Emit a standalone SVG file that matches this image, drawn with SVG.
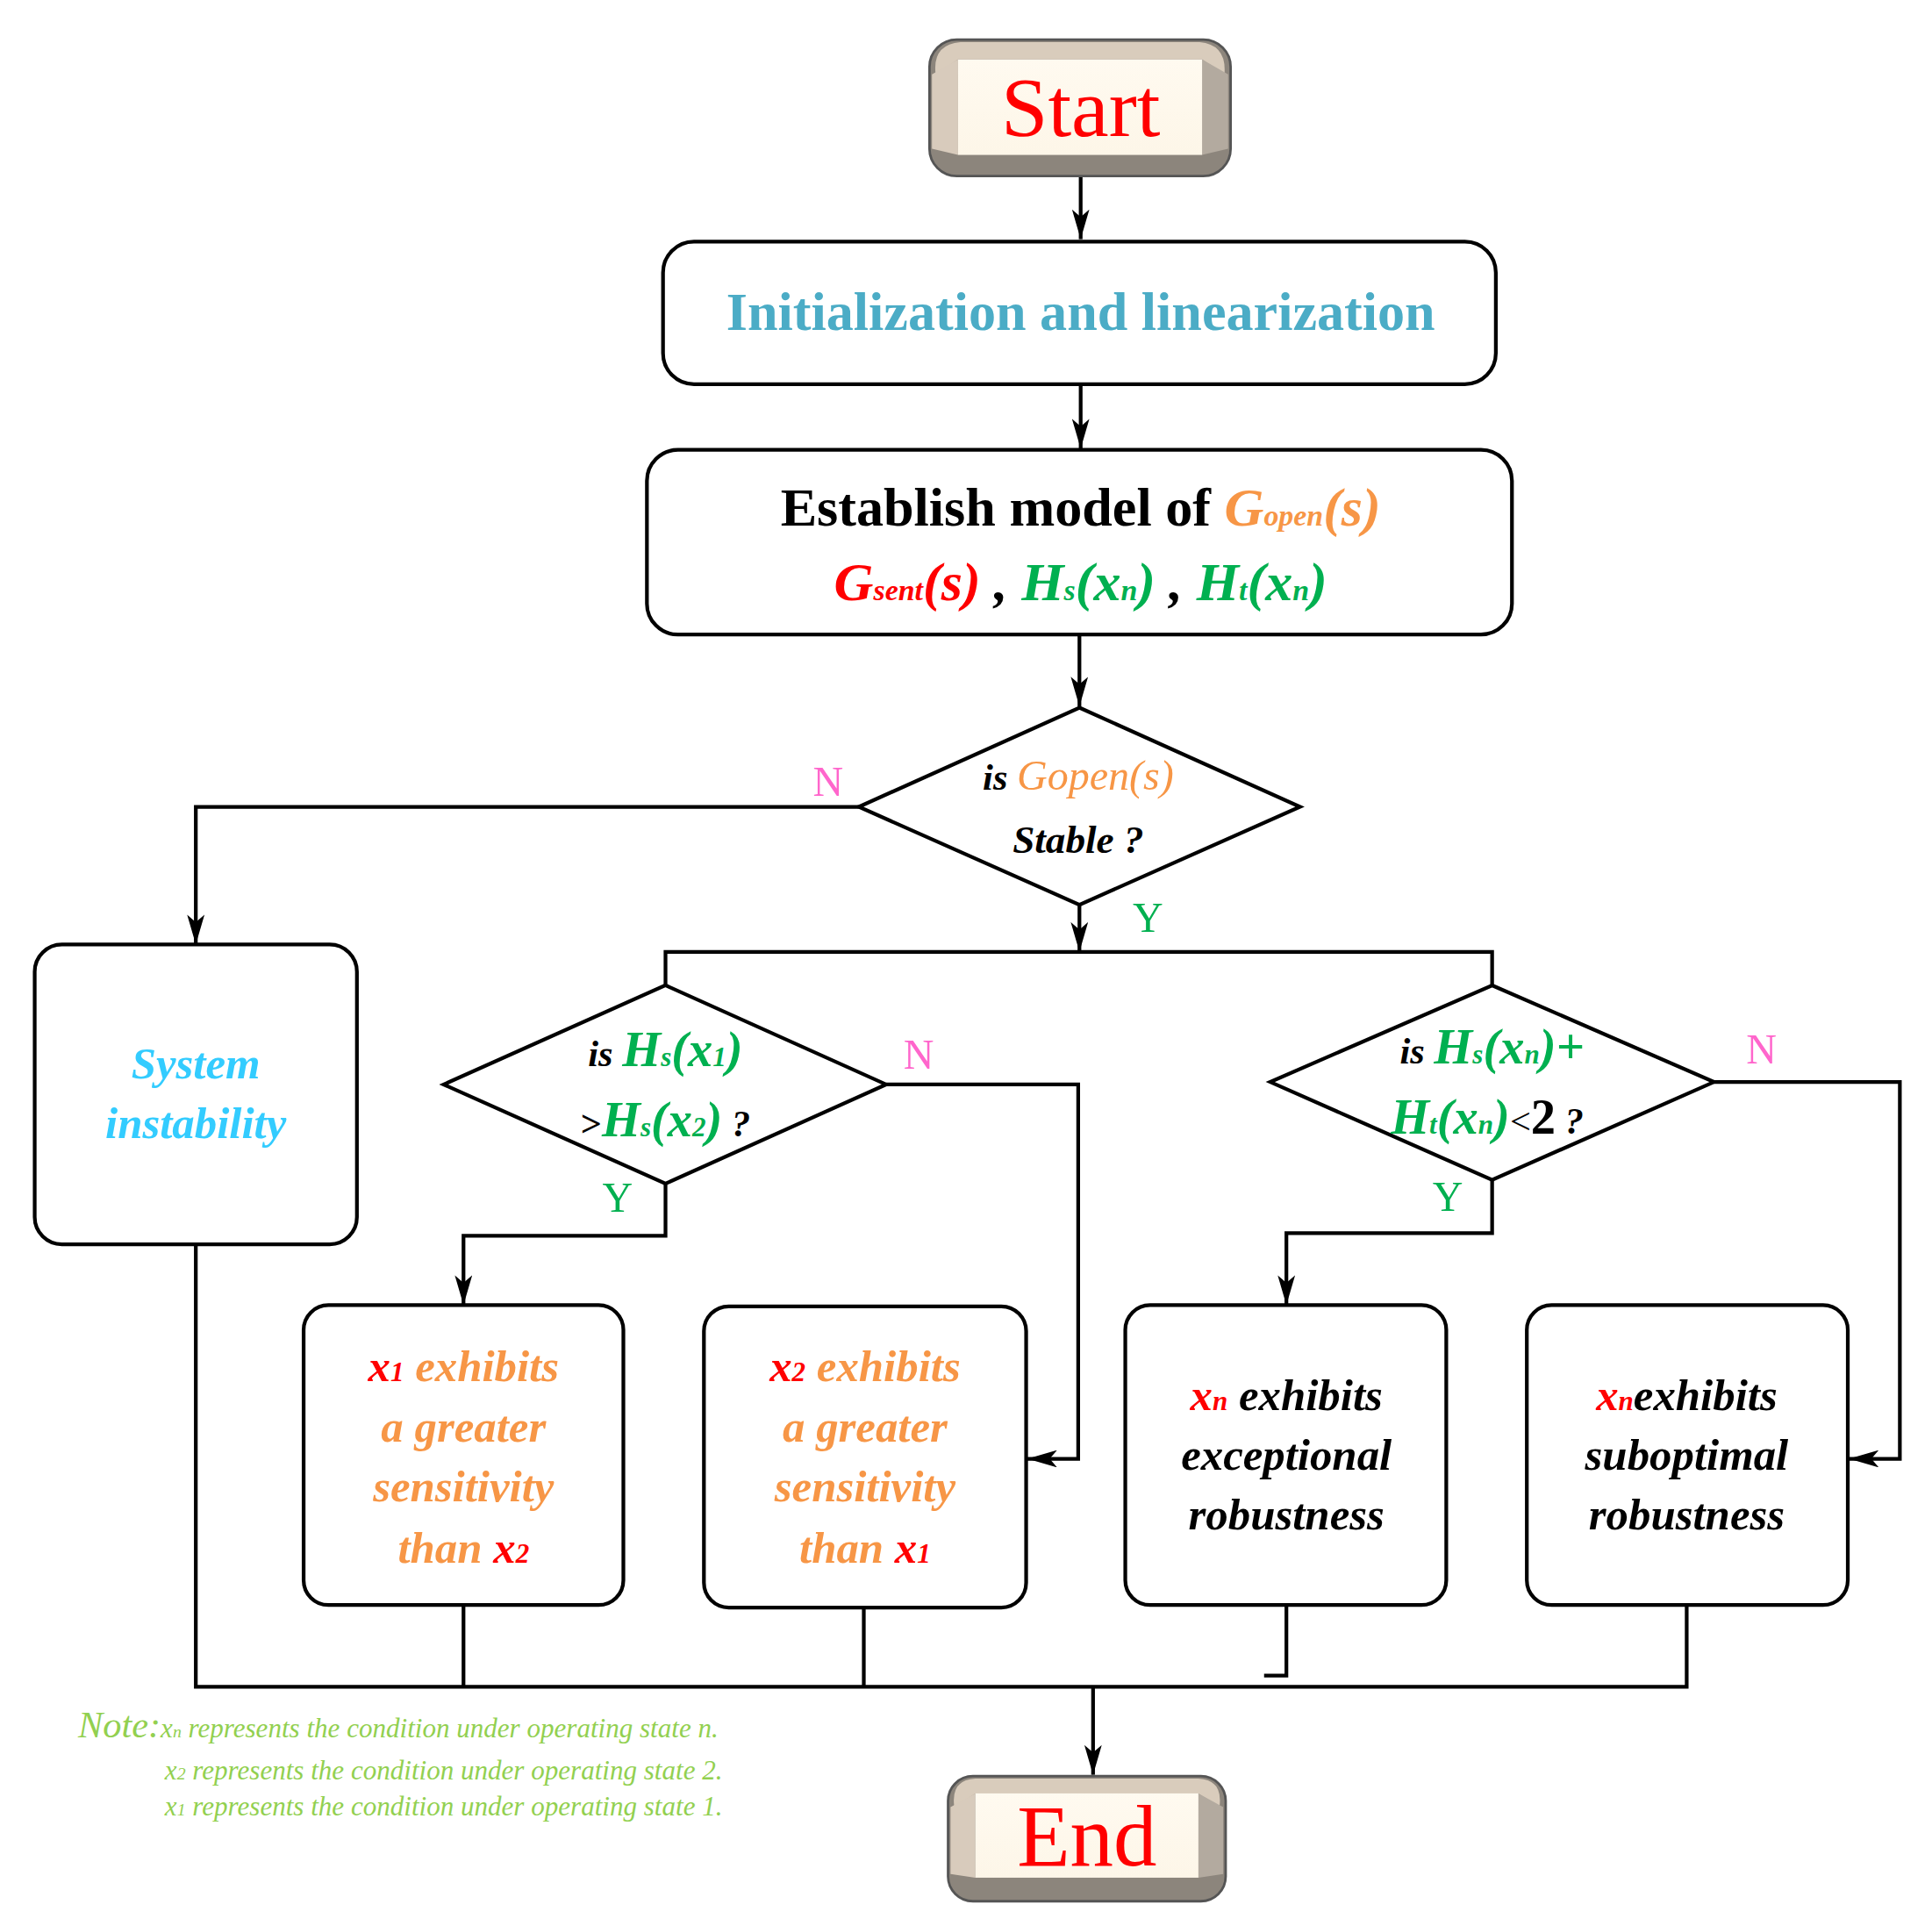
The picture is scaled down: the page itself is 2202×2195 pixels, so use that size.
<svg xmlns="http://www.w3.org/2000/svg" width="2202" height="2195" viewBox="0 0 2202 2195">
<style>
.b{fill:#fff;stroke:#000;stroke-width:3}
.c{fill:none;stroke:#000;stroke-width:3}
text{font-family:"Liberation Serif","Times New Roman",serif}
.i{font-style:italic;font-weight:bold}
.o{fill:#f79646}.g{fill:#00b050}.r{fill:#ff0000}.k{fill:#000}
.yl{fill:#00b050;font-size:34px}.nl{fill:#ff66cc;font-size:34px}
.nt{fill:#92d050;font-style:italic;font-size:22px}
</style>
<defs>
<marker id="a" viewBox="0 0 24 14" refX="24" refY="7" markerWidth="24" markerHeight="14" markerUnits="userSpaceOnUse" orient="auto">
<path d="M0,0L24,7L0,14L6,7z" fill="#000"/>
</marker>
<linearGradient id="face" x1="0" y1="0" x2="0" y2="1"><stop offset="0" stop-color="#fffaf0"/><stop offset="1" stop-color="#fdf6e8"/></linearGradient>
</defs>
<rect width="2202" height="2195" fill="#fff"/>
<g transform="scale(1.4125)">
<g id="connectors" class="c">
<path d="M872,142V193" marker-end="url(#a)"/>
<path d="M872,310V362" marker-end="url(#a)"/>
<path d="M871,512V570" marker-end="url(#a)"/>
<path d="M693,651H158V762" marker-end="url(#a)"/>
<path d="M871,730V768" marker-end="url(#a)"/>
<path d="M537,795V768H1204V795"/>
<path d="M715,875H870V1177H829" marker-end="url(#a)"/>
<path d="M537,955V997H374V1053" marker-end="url(#a)"/>
<path d="M1383,873H1533V1177H1492" marker-end="url(#a)"/>
<path d="M1204,952V995H1038V1053" marker-end="url(#a)"/>
<path d="M158,1004V1361H1361V1295"/>
<path d="M374,1295V1361M697,1297V1361M1038,1295V1352H1020"/>
<path d="M882,1361V1432" marker-end="url(#a)"/>
<text x="656" y="642" class="nl" stroke="none">N</text>
<text x="914" y="752" class="yl" stroke="none">Y</text>
<text x="729" y="862" class="nl" stroke="none">N</text>
<text x="486" y="978" class="yl" stroke="none">Y</text>
<text x="1409" y="858" class="nl" stroke="none">N</text>
<text x="1156" y="977" class="yl" stroke="none">Y</text>
</g>
<g id="start">
<rect x="750" y="32" width="243" height="110" rx="22" fill="#8c857c" stroke="#555" stroke-width="2"/>
<path d="M755,60Q752,36 775,34H968Q990,36 988,60L970,48H773Z" fill="#d9ccbc"/>
<path d="M752,60L773,48V125L752,120Z" fill="#d8cbbc"/>
<path d="M991,60L970,48V125L991,120Z" fill="#b3aa9f"/>
<rect x="773" y="48" width="197" height="77" fill="url(#face)"/>
<text x="872" y="110" text-anchor="middle" font-size="68" class="r">Start</text>
</g>
<g id="init">
<rect x="535" y="195" width="672" height="115" rx="25" class="b"/>
<text x="872" y="266" text-anchor="middle" font-size="44" font-weight="bold" fill="#4bacc6">Initialization and linearization</text>
</g>
<g id="model">
<rect x="522" y="363" width="698" height="149" rx="25" class="b"/>
<text x="872" y="424" text-anchor="middle" font-size="44" font-weight="bold"><tspan class="k">Establish model of </tspan><tspan class="o" font-style="italic">G<tspan font-size="24">open</tspan>(s)</tspan></text>
<text x="872" y="484" text-anchor="middle" font-size="44" class="i"><tspan class="r">G<tspan font-size="24">sent</tspan>(s)</tspan><tspan class="k"> , </tspan><tspan class="g">H<tspan font-size="24">s</tspan>(x<tspan font-size="24">n</tspan>)</tspan><tspan class="k"> , </tspan><tspan class="g">H<tspan font-size="24">t</tspan>(x<tspan font-size="24">n</tspan>)</tspan></text>
</g>
<g id="d1">
<path d="M871,571L1049,651L871,730L693,651Z" class="b"/>
<text x="870" y="637" text-anchor="middle" font-size="34" font-style="italic"><tspan class="k" font-weight="bold" font-size="30">is  </tspan><tspan class="o">Gopen(s)</tspan></text>
<text x="870" y="688" text-anchor="middle" font-size="32" class="i k">Stable ?</text>
</g>
<g id="sys">
<rect x="28" y="762" width="260" height="242" rx="22" class="b"/>
<text x="158" y="870" text-anchor="middle" font-size="36" class="i" fill="#33ccff">System</text>
<text x="158" y="918" text-anchor="middle" font-size="36" class="i" fill="#33ccff">instability</text>
</g>
<g id="d2">
<path d="M537,795L715,875L537,955L358,875Z" class="b"/>
<text x="537" y="860" text-anchor="middle" font-size="40" class="i"><tspan class="k" font-size="30">is  </tspan><tspan class="g">H<tspan font-size="22">s</tspan>(x<tspan font-size="22">1</tspan>)</tspan></text>
<text x="537" y="917" text-anchor="middle" font-size="40" class="i"><tspan class="k" font-size="30" font-style="normal">&gt;</tspan><tspan class="g">H<tspan font-size="22">s</tspan>(x<tspan font-size="22">2</tspan>)</tspan><tspan class="k" font-size="30"> ?</tspan></text>
</g>
<g id="d3">
<path d="M1204,795L1383,873L1204,952L1025,873Z" class="b"/>
<text x="1204" y="858" text-anchor="middle" font-size="40" class="i"><tspan class="k" font-size="30">is  </tspan><tspan class="g">H<tspan font-size="22">s</tspan>(x<tspan font-size="22">n</tspan>)+</tspan></text>
<text x="1200" y="915" text-anchor="middle" font-size="40" class="i"><tspan class="g">H<tspan font-size="22">t</tspan>(x<tspan font-size="22">n</tspan>)</tspan><tspan class="k" font-style="normal" font-weight="normal" font-size="30">&lt;</tspan><tspan class="k" font-style="normal">2</tspan><tspan class="k" font-size="30"> ?</tspan></text>
</g>
<g id="r1">
<rect x="245" y="1053" width="258" height="242" rx="20" class="b"/>
<g text-anchor="middle" font-size="36" class="i o">
<text x="374" y="1114"><tspan class="r">x<tspan font-size="22">1</tspan></tspan> exhibits</text>
<text x="374" y="1163">a greater</text>
<text x="374" y="1211">sensitivity</text>
<text x="374" y="1261">than <tspan class="r">x<tspan font-size="22">2</tspan></tspan></text>
</g>
</g>
<g id="r2">
<rect x="568" y="1054" width="260" height="243" rx="20" class="b"/>
<g text-anchor="middle" font-size="36" class="i o">
<text x="698" y="1114"><tspan class="r">x<tspan font-size="22">2</tspan></tspan> exhibits</text>
<text x="698" y="1163">a greater</text>
<text x="698" y="1211">sensitivity</text>
<text x="698" y="1261">than <tspan class="r">x<tspan font-size="22">1</tspan></tspan></text>
</g>
</g>
<g id="r3">
<rect x="908" y="1053" width="259" height="242" rx="20" class="b"/>
<g text-anchor="middle" font-size="36" class="i k">
<text x="1038" y="1138"><tspan class="r">x<tspan font-size="22">n</tspan></tspan> exhibits</text>
<text x="1038" y="1186">exceptional</text>
<text x="1038" y="1234">robustness</text>
</g>
</g>
<g id="r4">
<rect x="1232" y="1053" width="259" height="242" rx="20" class="b"/>
<g text-anchor="middle" font-size="36" class="i k">
<text x="1361" y="1138"><tspan class="r">x<tspan font-size="22">n</tspan></tspan>exhibits</text>
<text x="1361" y="1186">suboptimal</text>
<text x="1361" y="1234">robustness</text>
</g>
</g>
<g id="end">
<rect x="765" y="1433" width="224" height="101" rx="20" fill="#8c857c" stroke="#555" stroke-width="2"/>
<path d="M770,1458Q767,1436 787,1435H967Q987,1436 984,1458L967,1447H787Z" fill="#d9ccbc"/>
<path d="M767,1458L787,1447V1515L767,1512Z" fill="#d8cbbc"/>
<path d="M987,1458L967,1447V1515L987,1512Z" fill="#b3aa9f"/>
<rect x="787" y="1447" width="180" height="68" fill="url(#face)"/>
<text x="877" y="1505" text-anchor="middle" font-size="70" class="r">End</text>
</g>
<g id="note">
<text x="63" y="1402" class="nt"><tspan font-size="30">Note:</tspan>x<tspan font-size="14">n</tspan> represents the condition under operating state n.</text>
<text x="133" y="1436" class="nt">x<tspan font-size="14">2</tspan> represents the condition under operating state 2.</text>
<text x="133" y="1465" class="nt">x<tspan font-size="14">1</tspan> represents the condition under operating state 1.</text>
</g>
</g>
</svg>
